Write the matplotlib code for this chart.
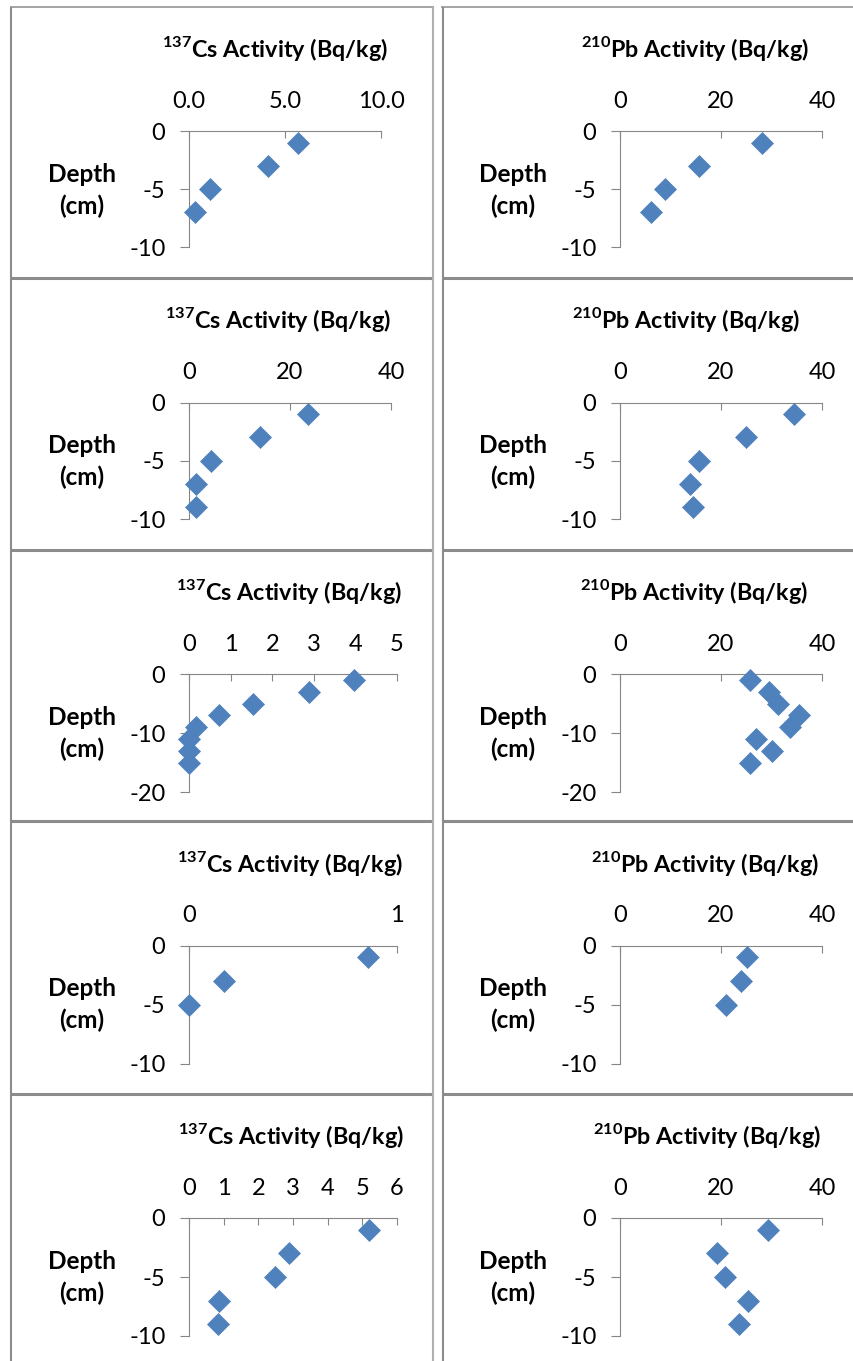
import matplotlib
matplotlib.use("Agg")
import matplotlib.pyplot as plt
from matplotlib.lines import Line2D

plt.rcParams["font.family"] = ["Lato", "DejaVu Sans"]
plt.rcParams["axes.unicode_minus"] = False
plt.rcParams["mathtext.fontset"] = "custom"
plt.rcParams["mathtext.rm"] = "Lato"
plt.rcParams["mathtext.bf"] = "Lato:bold"

# ---- data: depth (cm) and activity (Bq/kg) for five cores ----
depth_1 = [-1, -3, -5, -7]
cs_1 = [5.7, 4.1, 1.1, 0.3]
pb_1 = [28.2, 15.6, 8.9, 6.1]

depth_2 = [-1, -3, -5, -7, -9]
cs_2 = [23.6, 14.1, 4.4, 1.4, 1.4]
pb_2 = [34.4, 24.9, 15.6, 13.9, 14.4]

depth_3 = [-1, -3, -5, -7, -9, -11, -13, -15]
cs_3 = [3.97, 2.88, 1.55, 0.72, 0.16, 0.01, 0.0, 0.0]
pb_3 = [25.8, 29.6, 31.2, 35.5, 33.6, 26.9, 30.0, 25.8]

depth_4 = [-1, -3, -5]
cs_4 = [0.86, 0.17, 0.0]
pb_4 = [25.1, 23.9, 20.9]

depth_5 = [-1, -3, -5, -7, -9]
cs_5 = [5.18, 2.88, 2.48, 0.87, 0.85]
pb_5 = [29.3, 19.2, 20.8, 25.4, 23.6]

# axis ticks and labels
cs_xticks = [[0, 5, 10], [0, 20, 40], [0, 1, 2, 3, 4, 5], [0, 1], [0, 1, 2, 3, 4, 5, 6]]
cs_xlabels = [["0.0", "5.0", "10.0"], ["0", "20", "40"], ["0", "1", "2", "3", "4", "5"],
              ["0", "1"], ["0", "1", "2", "3", "4", "5", "6"]]
pb_xticks = [0, 20, 40]
pb_xlabels = ["0", "20", "40"]
depth_ticks = [[0, -5, -10], [0, -5, -10], [0, -10, -20], [0, -5, -10], [0, -5, -10]]

cs_title = r"$^{\mathbf{137}}$Cs Activity (Bq/kg)"
pb_title = r"$^{\mathbf{210}}$Pb Activity (Bq/kg)"
depth_title = ["Depth", "(cm)"]

depths = [depth_1, depth_2, depth_3, depth_4, depth_5]
cs_vals = [cs_1, cs_2, cs_3, cs_4, cs_5]
pb_vals = [pb_1, pb_2, pb_3, pb_4, pb_5]

# ---- layout (pixels) ----
W, H = 854, 1361
BLUE = "#4F81BD"
AXIS = "#868686"
GRID = "#8C8C8C"

row_top = [131, 402.5, 674, 945.5, 1218]
row_bot = [247, 519, 792, 1063.5, 1336]
cs_left, cs_right = 189, [381, 391, 397, 397, 397]
pb_left, pb_right = 620, 822
cs_title_x = [275, 278, 289, 290, 291]
pb_title_x = [695, 686, 694, 705, 707]

TICK_FS = 17
TITLE_FS = 16.8
DEPTH_FS = 17.5

fig = plt.figure(figsize=(W / 100, H / 100), dpi=100)
fig.patch.set_facecolor("white")


def fx(px):
    return px / W


def fy(py):
    return 1 - py / H


def panel(left, top, right, bottom, x, y, xticks, xlabels, yticks, title, title_x):
    ax = fig.add_axes([fx(left), fy(bottom), (right - left) / W, (bottom - top) / H])
    ax.set_facecolor("none")
    ax.plot(x, y, linestyle="none", marker="D", ms=11, mfc=BLUE, mec=BLUE,
            mew=0.5, clip_on=False, zorder=5)
    ax.set_xlim(xticks[0], xticks[-1])
    ax.set_ylim(yticks[-1], 0)
    ax.xaxis.tick_top()
    ax.set_xticks(xticks)
    ax.set_xticklabels(xlabels)
    ax.set_yticks(yticks)
    ax.set_yticklabels([str(v) for v in yticks])
    for s in ("bottom", "right"):
        ax.spines[s].set_visible(False)
    for s in ("top", "left"):
        ax.spines[s].set_color(AXIS)
        ax.spines[s].set_linewidth(0.8)
    ax.tick_params(axis="x", direction="in", length=5, width=0.8, color=AXIS,
                   pad=14, labelsize=TICK_FS, labelcolor="black")
    ax.tick_params(axis="y", direction="out", length=6.5, width=0.8, color=AXIS,
                   pad=10.5, labelsize=TICK_FS, labelcolor="black")
    fig.text(fx(title_x), fy(top - 74), title, ha="center", va="baseline",
             fontsize=TITLE_FS, fontweight="bold")
    fig.text(fx(left - 107), fy(top + 51), depth_title[0], ha="center", va="baseline",
             fontsize=DEPTH_FS, fontweight="bold")
    fig.text(fx(left - 107), fy(top + 83), depth_title[1], ha="center", va="baseline",
             fontsize=DEPTH_FS, fontweight="bold")
    return ax


for i in range(5):
    panel(cs_left, row_top[i], cs_right[i], row_bot[i], cs_vals[i], depths[i],
          cs_xticks[i], cs_xlabels[i], depth_ticks[i], cs_title, cs_title_x[i])
    panel(pb_left, row_top[i], pb_right, row_bot[i], pb_vals[i], depths[i],
          pb_xticks, pb_xlabels, depth_ticks[i], pb_title, pb_title_x[i])


# ---- table borders ----
def hline(y, x0, x1, lw, color):
    fig.add_artist(Line2D([fx(x0), fx(x1)], [fy(y), fy(y)], lw=lw, color=color,
                          solid_capstyle="butt"))


def vline(x, y0, y1, lw, color):
    fig.add_artist(Line2D([fx(x), fx(x)], [fy(y0), fy(y1)], lw=lw, color=color,
                          solid_capstyle="butt"))


hline(7, 10, 434, 1.1, GRID)
hline(7, 441, 854, 1.1, GRID)
for y in (278, 549.5, 821, 1093.5):
    hline(y, 10, 433, 2.2, GRID)
    hline(y, 442, 854, 2.2, GRID)
vline(11, 6.5, 1361, 1.5, GRID)
vline(433.3, 6.5, 1361, 1.5, "#B0B0B0")
vline(442.8, 6.5, 1361, 1.5, GRID)

fig.savefig("out.png", dpi=100, facecolor="white")
